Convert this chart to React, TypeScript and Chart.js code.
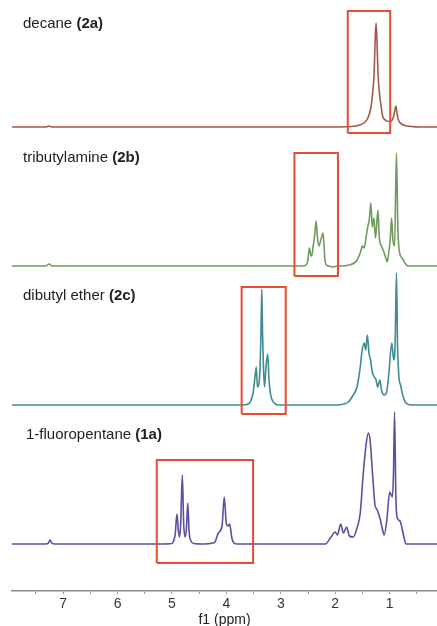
import React, { useEffect, useRef } from "react";
import { Chart, registerables } from "chart.js";

Chart.register(...registerables);

// ---- axis ----
const ppmMin = 0.13;
const ppmMax = 7.94;
const tickValues = [0.5, 1, 1.5, 2, 2.5, 3, 3.5, 4, 4.5, 5, 5.5, 6, 6.5, 7, 7.5];
const tickLabels = ["", "1", "", "2", "", "3", "", "4", "", "5", "", "6", "", "7", ""];
const axisTitle = "f1 (ppm)";

// ---- compounds ----
const compoundNames = ["decane", "tributylamine", "dibutyl ether", "1-fluoropentane"];
const compoundIds = ["2a", "2b", "2c", "1a"];
const stackOffsets = [464, 325, 186, 47];

// spectra: [ppm, intensity above own baseline]
const decane: [number, number][] = [
  [7.94, 0], [7.32, 0], [7.26, 1], [7.2, 0], [2.2, 0], [1.7, 0.5], [1.55, 2], [1.45, 5],
  [1.4, 9], [1.35, 18], [1.32, 30], [1.295, 45], [1.28, 62], [1.265, 90], [1.25, 104],
  [1.235, 90], [1.22, 62], [1.205, 45], [1.18, 30], [1.15, 18], [1.13, 11], [1.08, 7],
  [1.02, 5.5], [0.97, 6], [0.93, 10], [0.9, 18], [0.885, 21], [0.87, 16], [0.85, 9],
  [0.82, 5], [0.78, 3], [0.72, 1.5], [0.6, 0.5], [0.45, 0], [0.13, 0],
];

const tributylamine: [number, number][] = [
  [7.94, 0], [7.32, 0], [7.26, 2], [7.2, 0], [3.0, 0], [2.6, 0], [2.54, 1], [2.51, 4],
  [2.49, 12], [2.475, 18], [2.45, 11], [2.43, 10], [2.41, 18], [2.38, 30], [2.35, 45],
  [2.33, 30], [2.3, 20], [2.26, 27], [2.225, 33], [2.205, 20], [2.19, 6], [2.16, 1],
  [2.12, 0], [2.05, -1], [1.95, 0], [1.85, 0], [1.75, 1], [1.65, 3], [1.6, 6], [1.54, 13],
  [1.5, 20], [1.47, 18], [1.43, 30], [1.4, 40], [1.375, 46], [1.345, 63], [1.32, 39],
  [1.29, 48], [1.26, 28], [1.215, 56], [1.19, 28], [1.15, 20], [1.1, 13], [1.07, 8],
  [1.045, 4], [1.02, 12], [0.99, 26], [0.965, 48], [0.94, 26], [0.91, 20], [0.875, 113],
  [0.85, 40], [0.82, 14], [0.77, 8], [0.72, 3], [0.66, 0], [0.13, 0],
];

const dibutylEther: [number, number][] = [
  [7.94, 0], [4.0, 0], [3.7, 0], [3.6, 1], [3.56, 3], [3.51, 12], [3.47, 30], [3.45, 38],
  [3.43, 18], [3.4, 22], [3.38, 40], [3.365, 70], [3.35, 116], [3.335, 70], [3.32, 40],
  [3.3, 18], [3.27, 40], [3.24, 51], [3.22, 28], [3.19, 11], [3.15, 4], [3.1, 1], [3.05, 0],
  [2.2, 0], [1.95, 0], [1.85, 1], [1.76, 3], [1.67, 10], [1.6, 18], [1.54, 38], [1.51, 53],
  [1.47, 62], [1.44, 55], [1.41, 70], [1.38, 52], [1.35, 45], [1.32, 33], [1.28, 28],
  [1.25, 25], [1.22, 18], [1.18, 25], [1.15, 15], [1.1, 10], [1.06, 12], [1.02, 28],
  [0.96, 62], [0.925, 45], [0.9, 60], [0.875, 132], [0.855, 60], [0.83, 28], [0.8, 20],
  [0.76, 10], [0.7, 2], [0.6, 0], [0.13, 0],
];

const fluoropentane: [number, number][] = [
  [7.94, 0], [7.32, 0], [7.27, 1], [7.24, 4], [7.21, 1], [7.15, 0], [5.2, 0], [5.0, 0.5],
  [4.97, 3], [4.94, 10], [4.91, 30], [4.88, 12], [4.86, 7], [4.84, 20], [4.81, 69],
  [4.785, 20], [4.76, 7], [4.735, 15], [4.71, 41], [4.685, 12], [4.65, 3], [4.6, 0.5],
  [4.4, 0], [4.25, 1], [4.21, 2], [4.15, 11], [4.08, 18], [4.04, 47], [4.0, 20], [3.97, 18],
  [3.94, 20], [3.9, 6], [3.86, 1], [3.8, 0], [2.4, 0], [2.18, 0], [2.09, 6], [2.0, 12],
  [1.96, 9], [1.9, 20], [1.85, 11], [1.79, 17], [1.74, 8], [1.67, 7], [1.6, 16], [1.54, 31],
  [1.49, 67], [1.43, 101], [1.39, 111], [1.36, 104], [1.31, 67], [1.27, 39], [1.25, 36],
  [1.22, 33], [1.17, 24], [1.13, 14], [1.1, 9], [1.05, 25], [1.0, 52], [0.95, 47],
  [0.93, 70], [0.91, 132], [0.885, 45], [0.86, 26], [0.81, 23], [0.75, 10], [0.7, 0],
  [0.13, 0],
];

const spectra = [decane, tributylamine, dibutylEther, fluoropentane];

// highlight boxes: [left ppm, right ppm] and [bottom, top] relative to baseline
const boxPpm: [number, number][] = [[1.77, 0.99], [2.75, 1.95], [3.72, 2.91], [5.28, 3.51]];
const boxRange: [number, number][] = [[-6, 116], [-10, 113], [-9, 118], [-19, 84]];

const lineColors = ["#a4584c", "#6f9b5d", "#3f8c90", "#5b4fa0"];
const boxColor = "#eb4a33";
const labelTops = [15, 149, 287, 426];
const labelLefts = [23, 23, 23, 26];

export default function App() {
  const canvasRef = useRef<HTMLCanvasElement | null>(null);

  useEffect(() => {
    const canvas = canvasRef.current;
    if (!canvas) return;

    const boxDatasets = boxPpm.map((b, i) => {
      const off = stackOffsets[i];
      const [x1, x2] = b;
      const [y1, y2] = boxRange[i];
      return {
        label: "box " + compoundIds[i],
        data: [
          { x: x1, y: off + y1 },
          { x: x1, y: off + y2 },
          { x: x2, y: off + y2 },
          { x: x2, y: off + y1 },
          { x: x1, y: off + y1 },
        ],
        borderColor: boxColor,
        borderWidth: 2,
        pointRadius: 0,
        tension: 0,
        fill: false,
      };
    });

    const specDatasets = spectra.map((s, i) => ({
      label: compoundNames[i],
      data: s.map(([x, y]) => ({ x, y: stackOffsets[i] + y })),
      borderColor: lineColors[i],
      borderWidth: 1.6,
      pointRadius: 0,
      cubicInterpolationMode: "monotone" as const,
      fill: false,
    }));

    const chart = new Chart(canvas, {
      type: "line",
      data: { datasets: [...boxDatasets, ...specDatasets] as any },
      options: {
        animation: false,
        responsive: false,
        parsing: false as any,
        layout: { padding: { left: 12, right: 0, top: 0, bottom: 0 } },
        plugins: { legend: { display: false }, tooltip: { enabled: false } },
        scales: {
          x: {
            type: "linear",
            reverse: true,
            min: ppmMin,
            max: ppmMax,
            afterBuildTicks: (scale: any) => {
              scale.ticks = tickValues.map((v) => ({ value: v }));
            },
            afterFit: (scale: any) => {
              scale.height = 35;
            },
            ticks: {
              autoSkip: false,
              maxRotation: 0,
              padding: 2,
              color: "#333",
              font: { family: "'Liberation Sans', Arial, sans-serif", size: 14 },
              callback: (_v: any, idx: number) => tickLabels[idx] ?? "",
            },
            grid: {
              drawOnChartArea: false,
              drawTicks: true,
              tickLength: 3,
              color: "#999",
            },
            border: { display: true, color: "#8a8a8a", width: 1.6 },
            title: {
              display: true,
              text: axisTitle,
              color: "#222",
              font: { family: "'Liberation Sans', Arial, sans-serif", size: 14, lineHeight: 1.2 },
              padding: { top: 0, bottom: -3 },
            },
          },
          y: {
            type: "linear",
            display: false,
            min: 0,
            max: 591,
          },
        },
      },
    });

    return () => chart.destroy();
  }, []);

  const labelStyle: React.CSSProperties = {
    position: "absolute",
    fontFamily: "'Liberation Sans', Arial, sans-serif",
    fontSize: 15,
    lineHeight: "16px",
    color: "#222",
    whiteSpace: "nowrap",
  };

  return (
    <div style={{ position: "absolute", left: 0, top: 0, width: 437, height: 626, background: "#fff" }}>
      <canvas ref={canvasRef} width={437} height={626} style={{ display: "block" }} />
      {compoundNames.map((name, i) => (
        <div key={name} style={{ ...labelStyle, left: labelLefts[i], top: labelTops[i] }}>
          {name} <b>({compoundIds[i]})</b>
        </div>
      ))}
    </div>
  );
}
